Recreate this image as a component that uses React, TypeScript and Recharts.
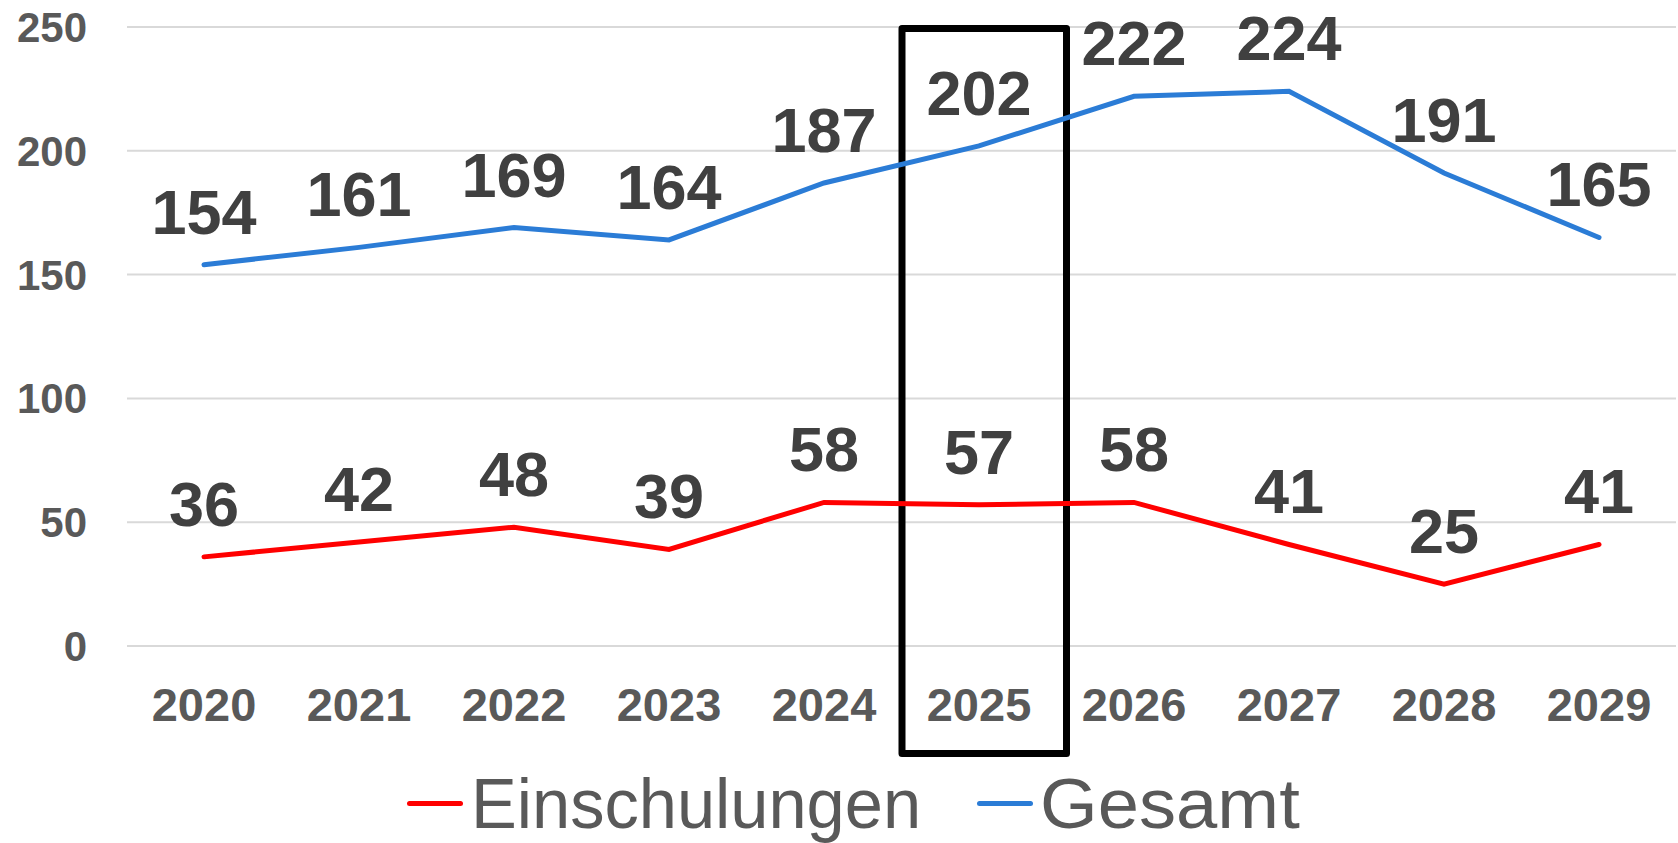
import React from "react";
import {
  LineChart,
  Line,
  XAxis,
  YAxis,
  CartesianGrid,
  Legend,
  LabelList,
  ReferenceArea,
} from "recharts";

const years = ["2020", "2021", "2022", "2023", "2024", "2025", "2026", "2027", "2028", "2029"];
const einschulungen = [36, 42, 48, 39, 58, 57, 58, 41, 25, 41];
const gesamt = [154, 161, 169, 164, 187, 202, 222, 224, 191, 165];
const yTicks = [0, 50, 100, 150, 200, 250];
const highlightYear = "2025";

const data = years.map((y, i) => ({
  year: y,
  Einschulungen: einschulungen[i],
  Gesamt: gesamt[i],
}));

const RED = "#FF0000";
const BLUE = "#2B7CD6";
const TICK = "#595959";
const LABEL = "#404040";
const FONT = '"Liberation Sans", Arial, sans-serif';

const HighlightBox = (props: any) => {
  const { x, y, height } = props;
  if (x == null || y == null) return null;
  return (
    <rect
      x={x - 77}
      y={y}
      width={164.5}
      height={height}
      fill="none"
      stroke="#000"
      strokeWidth={7}
      strokeLinejoin="round"
    />
  );
};

const legendText: React.CSSProperties = {
  position: "absolute",
  top: 16,
  fontSize: 70,
  lineHeight: "70px",
  whiteSpace: "nowrap",
  transformOrigin: "left center",
};

const LegendContent = () => (
  <div style={{ position: "relative", width: 1676, height: 90, fontFamily: FONT, color: TICK }}>
    <div style={{ position: "absolute", left: 407, top: 48, width: 56, height: 5, borderRadius: 3, background: RED }} />
    <div style={{ ...legendText, left: 471, transform: "scaleX(0.98)" }}>Einschulungen</div>
    <div style={{ position: "absolute", left: 977, top: 48, width: 56, height: 5, borderRadius: 3, background: BLUE }} />
    <div style={{ ...legendText, left: 1040, transform: "scaleX(1.06)" }}>Gesamt</div>
  </div>
);

export default function App() {
  return (
    <div style={{ position: "absolute", left: 0, top: 0, width: 1678, height: 843, background: "#fff" }}>
      <LineChart
        width={1678}
        height={843}
        data={data}
        margin={{ top: 27, right: 2, left: 0, bottom: 0 }}
      >
        <CartesianGrid vertical={false} stroke="#D9D9D9" strokeWidth={2} />
        <XAxis
          dataKey="year"
          height={107}
          axisLine={false}
          tickLine={false}
          tickSize={0}
          tickMargin={42}
          padding={{ left: 77, right: 77 }}
          interval={0}
          tick={{ fill: TICK, fontSize: 47, fontWeight: 700, fontFamily: FONT }}
        />
        <YAxis
          width={127}
          domain={[0, 250]}
          ticks={yTicks}
          axisLine={false}
          tickLine={false}
          tickSize={0}
          tickMargin={40}
          tick={{ fill: TICK, fontSize: 42, fontWeight: 700, fontFamily: FONT }}
        />
        <Legend verticalAlign="bottom" content={<LegendContent />} wrapperStyle={{ left: 0, bottom: 0 }} />
        <Line
          type="linear"
          dataKey="Einschulungen"
          stroke={RED}
          strokeWidth={5}
          dot={false}
          strokeLinecap="round"
          isAnimationActive={false}
        >
          <LabelList
            dataKey="Einschulungen"
            position="top"
            offset={31}
            fill={LABEL}
            fontSize={63}
            fontWeight={700}
            fontFamily={FONT}
          />
        </Line>
        <Line
          type="linear"
          dataKey="Gesamt"
          stroke={BLUE}
          strokeWidth={5}
          dot={false}
          strokeLinecap="round"
          isAnimationActive={false}
        >
          <LabelList
            dataKey="Gesamt"
            position="top"
            offset={31}
            fill={LABEL}
            fontSize={63}
            fontWeight={700}
            fontFamily={FONT}
          />
        </Line>
        <ReferenceArea
          x1={highlightYear}
          x2={highlightYear}
          y1={-43.4}
          y2={249.4}
          ifOverflow="visible"
          shape={HighlightBox}
        />
      </LineChart>
    </div>
  );
}
